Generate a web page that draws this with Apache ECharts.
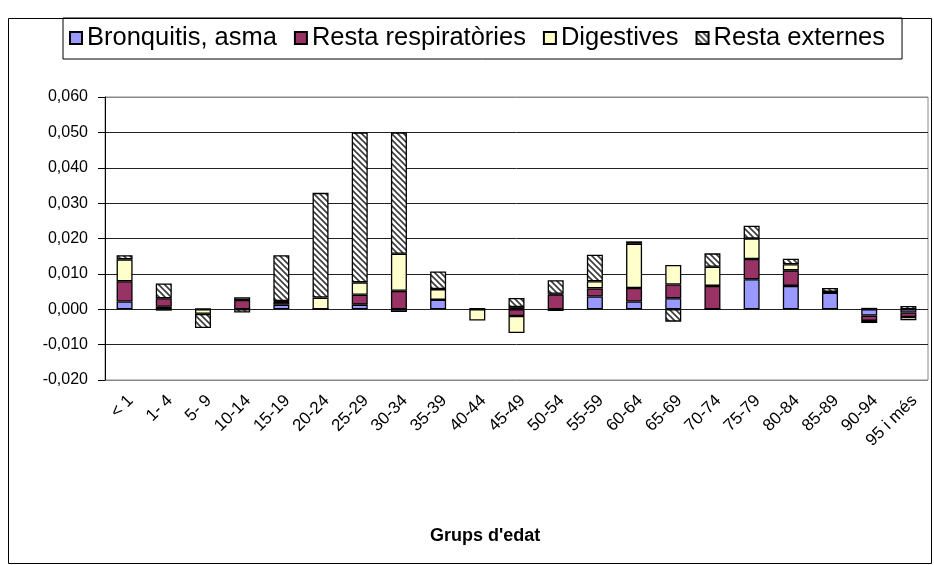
<!DOCTYPE html>
<html>
<head>
<meta charset="utf-8">
<script src="https://cdn.jsdelivr.net/npm/echarts@6/dist/echarts.min.js"></script>
<style>
  html, body { margin: 0; padding: 0; background: #fff; }
  #chart { width: 934px; height: 565px; }
</style>
</head>
<body>
<div id="chart"></div>
<script>
// grups d'edat
const categories = ['< 1', '1- 4', '5- 9', '10-14', '15-19', '20-24', '25-29', '30-34', '35-39', '40-44',
  '45-49', '50-54', '55-59', '60-64', '65-69', '70-74', '75-79', '80-84', '85-89', '90-94', '95 i més']

const bronquitis = [0.0022, 0.0007, 0, 0, 0.0013, 0, 0.0013, -0.0008, 0.0027, 0, 0.0006, -0.0005, 0.0036,
  0.0022, 0.0031, 0, 0.0085, 0.0066, 0.0047, -0.0018, -0.0009]
const restaResp = [0.0057, 0.0024, 0, 0.0026, 0.0008, 0, 0.0028, 0.0052, 0, 0, -0.0019, 0.0042, 0.0023,
  0.0038, 0.0039, 0.0066, 0.0057, 0.0044, 0.0002, -0.0015, -0.0013]
const digestives = [0.0062, -0.0004, -0.0013, 0.0008, 0.0002, 0.0033, 0.0035, 0.0105, 0.0030, -0.0032, -0.0048,
  0.0002, 0.0020, 0.0125, 0.0055, 0.0054, 0.0058, 0.0017, 0, -0.0006, -0.0009]
const restaExt = [0.0012, 0.0042, -0.0040, -0.0009, 0.0130, 0.0296, 0.0424, 0.0343, 0.0050, 0.0003, 0.0026,
  0.0038, 0.0075, 0.0007, -0.0035, 0.0038, 0.0036, 0.0016, 0.0011, 0.0004, 0.0009]

const seriesNames = ['Bronquitis, asma', 'Resta respiratòries', 'Digestives', 'Resta externes']

// ratllat per a "Resta externes"
function hatch () {
  const c = document.createElement('canvas')
  c.width = 6
  c.height = 6
  const ctx = c.getContext('2d')
  ctx.fillStyle = '#fff'
  ctx.fillRect(0, 0, 6, 6)
  ctx.strokeStyle = '#3a3a3a'
  ctx.lineWidth = 1.6
  ctx.beginPath()
  ctx.moveTo(-1, -1); ctx.lineTo(7, 7)
  ctx.moveTo(-1, 5); ctx.lineTo(1, 7)
  ctx.moveTo(5, -1); ctx.lineTo(7, 1)
  ctx.stroke()
  return { image: c, repeat: 'repeat' }
}

const fills = ['#9999FF', '#993366', '#FFFFCC', hatch()]
const values = [bronquitis, restaResp, digestives, restaExt]

const chart = echarts.init(document.getElementById('chart'))

let series = []
for (let i = 0; i < values.length; i++) {
  series.push({
    name: seriesNames[i],
    type: 'bar',
    stack: 'total',
    barWidth: 16,
    data: values[i],
    itemStyle: {
      color: fills[i],
      borderColor: '#000',
      borderWidth: 1.3
    },
    emphasis: { disabled: true }
  })
}

const gridColors = ['#888', '#222', '#222', '#222', '#222', '#222', '#222', '#222', '#888']

const option = {
  animation: false,
  textStyle: { fontFamily: 'Liberation Sans, Arial, sans-serif', color: '#000' },
  legend: {
    left: 63,
    top: 18,
    padding: [7, 17, 8, 6],
    borderColor: '#000',
    borderWidth: 1,
    icon: 'rect',
    itemWidth: 12,
    itemHeight: 12,
    itemGap: 17,
    textStyle: { fontSize: 25.5, color: '#000' },
    data: seriesNames
  },
  grid: {
    left: 105,
    right: 6,
    top: 97,
    bottom: 185,
    show: true,
    borderColor: '#888',
    borderWidth: 1
  },
  xAxis: {
    type: 'category',
    data: categories,
    axisLine: { show: false, onZero: false },
    axisTick: { show: false },
    axisLabel: {
      interval: 0,
      rotate: 45,
      margin: 12,
      fontSize: 17,
      color: '#000',
      verticalAlign: 'top'
    }
  },
  yAxis: {
    type: 'value',
    min: -0.02,
    max: 0.06,
    interval: 0.01,
    axisLine: { show: true, lineStyle: { color: '#000' } },
    axisTick: { show: true, length: 7, lineStyle: { color: '#000' } },
    axisLabel: {
      margin: 17,
      fontSize: 16,
      color: '#000',
      formatter: function (v) {
        return v.toFixed(3).replace('.', ',')
      }
    },
    splitLine: { show: true, lineStyle: { color: gridColors, width: 1 } }
  },
  graphic: [{
    type: 'rect',
    shape: { x: 8.5, y: 18.5, width: 923, height: 545 },
    style: { fill: 'none', stroke: '#000', lineWidth: 1 },
    silent: true
  }, {
    type: 'text',
    left: 430,
    top: 527,
    style: { text: "Grups d'edat", fontSize: 18, fontWeight: 'bold', fill: '#000', fontFamily: 'Liberation Sans, Arial, sans-serif' },
    silent: true
  }],
  series: series
}
chart.setOption(option)
</script>
</body>
</html>
